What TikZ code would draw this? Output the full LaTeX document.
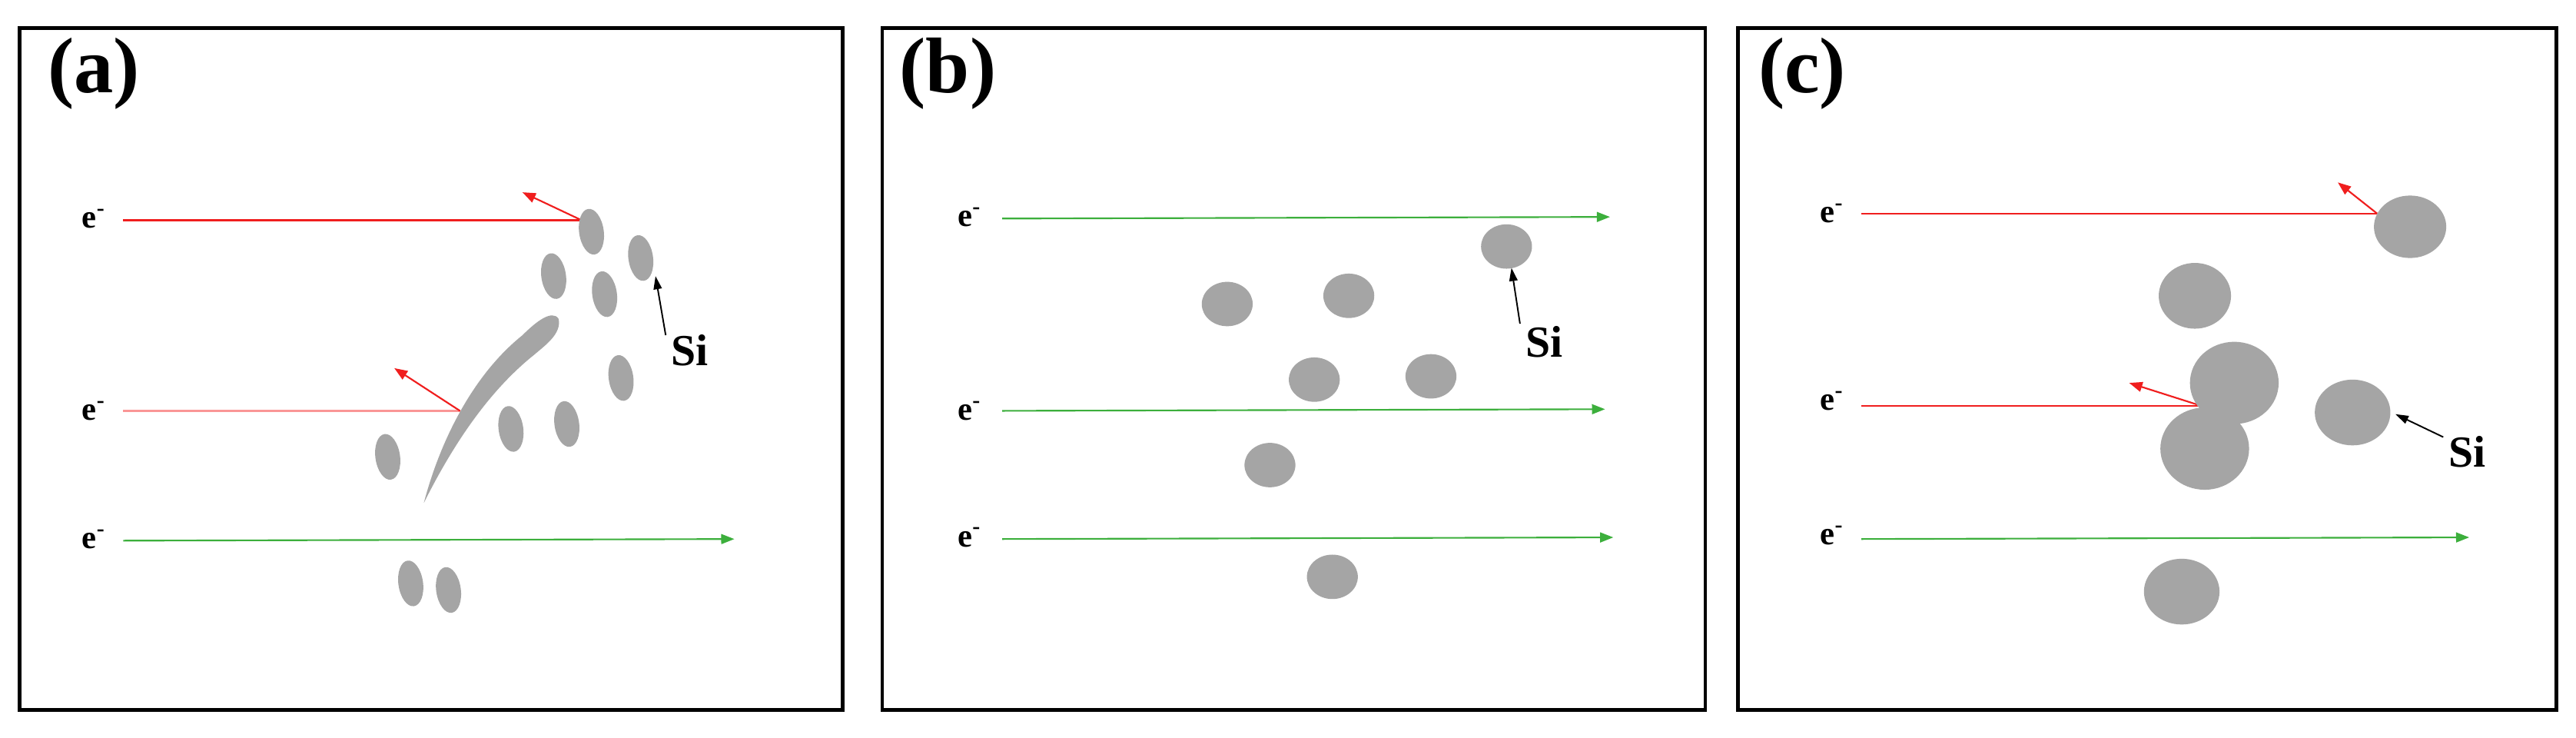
\documentclass[tikz,border=0pt]{standalone}
\usepackage{fontspec}
\setmainfont{Liberation Serif}
\usetikzlibrary{arrows.meta}
\definecolor{gr}{RGB}{60,175,60}
\definecolor{rd}{RGB}{240,30,30}
\definecolor{pk}{RGB}{250,150,150}
\definecolor{blob}{RGB}{165,165,165}
\begin{document}
\begin{tikzpicture}[x=1pt,y=-1pt,
 box/.style={draw,line width=2.2pt},
 lab/.style={font=\fontsize{48}{48}\selectfont\bfseries,anchor=center},
 el/.style={font=\fontsize{20}{20}\selectfont\bfseries,anchor=center},
 si/.style={font=\fontsize{27}{27}\selectfont\bfseries,anchor=center},
 grn/.style={draw=gr,line width=1pt,-{Triangle[length=8pt,width=6pt]}},
 red/.style={draw=rd,line width=1pt},
 rarr/.style={draw=rd,line width=1pt,-{Triangle[length=8pt,width=6pt]}},
 karr/.style={draw=black,line width=0.9pt,-{Triangle[length=8pt,width=5pt]}},
 b/.style={fill=blob},
]
\useasboundingbox (0,0) rectangle (1568,449);
\fill[white] (0,0) rectangle (1568,449);
% boxes
\draw[box] (12,17) rectangle (513,432);
\draw[box] (537,17) rectangle (1038,432);
\draw[box] (1058,17) rectangle (1556,432);
\node[lab] (la) at (57,45) {(a)};
\node[lab] (lb) at (577,45) {(b)};
\node[lab] (lc) at (1097,45) {(c)};
% ---- panel a
\foreach \n/\x/\y in {a1/57,a2/57,a3/57}{}
\node[el] (a1) at (57,133) {e\textsuperscript{-}};
\node[el] (a2) at (57,250) {e\textsuperscript{-}};
\node[el] (a3) at (57,328) {e\textsuperscript{-}};
\coordinate (a1s) at (75,134); \coordinate (a1e) at (354,134);
\draw[red] (a1s) -- (a1e);
\coordinate (a1t) at (318,117); \draw[rarr] (a1e) -- (a1t);
\coordinate (a2s) at (75,250); \coordinate (a2e) at (280,250);
\draw[draw=pk,line width=1pt] (a2s) -- (a2e);
\coordinate (a2t) at (240,224); \draw[rarr] (a2e) -- (a2t);
\coordinate (a3s) at (75,329); \coordinate (a3e) at (447,328);
\draw[grn] (a3s) -- (a3e);
\foreach \x/\y in {360/141,390/157,337/168,368/179,378/230,311/261,345/258,236/278,250/355,273/359}
  \fill[b,rotate around={8:(\x,\y)}] (\x,\y) ellipse (7.5 and 14);
\fill[b] (258,306) .. controls (268,268) and (288,228) .. (318,204)
  .. controls (326,196) and (336,188) .. (340,194)
  .. controls (342,203) and (332,210) .. (325,216)
  .. controls (300,236) and (278,266) .. (258,306) -- cycle;
\node[si] (asi) at (420,213) {Si};
\coordinate (asit) at (399,168);
\draw[karr] (asi.north west) ++(0,4) -- (asit);
% ---- panel b
\node[el] (b1) at (590,132) {e\textsuperscript{-}};
\node[el] (b2) at (590,250) {e\textsuperscript{-}};
\node[el] (b3) at (590,327) {e\textsuperscript{-}};
\coordinate (b1s) at (610,133); \coordinate (b1e) at (980,132); \draw[grn] (b1s) -- (b1e);
\coordinate (b2s) at (610,250); \coordinate (b2e) at (977,249); \draw[grn] (b2s) -- (b2e);
\coordinate (b3s) at (610,328); \coordinate (b3e) at (982,327); \draw[grn] (b3s) -- (b3e);
\foreach \x/\y in {917/150,747/185,821/180,800/231,871/229,773/283,811/351}
  \fill[b] (\x,\y) ellipse (15.5 and 13.5);
\node[si] (bsi) at (940,208) {Si};
\coordinate (bsit) at (920,163);
\draw[karr] (bsi.north west) ++(0,2) -- (bsit);
% ---- panel c
\node[el] (c1) at (1115,130) {e\textsuperscript{-}};
\node[el] (c2) at (1115,244) {e\textsuperscript{-}};
\node[el] (c3) at (1115,326) {e\textsuperscript{-}};
\coordinate (c1s) at (1133,130); \coordinate (c1e) at (1447,130); \draw[red] (c1s) -- (c1e);
\coordinate (c1t) at (1423,111); \draw[rarr] (c1e) -- (c1t);
\coordinate (c2s) at (1133,247); \coordinate (c2e) at (1340,247); \draw[red] (c2s) -- (c2e);
\coordinate (c2t) at (1296,233); \draw[rarr] (c2e) -- (c2t);
\coordinate (c3s) at (1133,328); \coordinate (c3e) at (1503,327); \draw[grn] (c3s) -- (c3e);
\fill[b] (1467,138) ellipse (22 and 19);
\fill[b] (1336,180) ellipse (22 and 20);
\fill[b] (1360,233) ellipse (27 and 25);
\fill[b] (1342,273) ellipse (27 and 25);
\fill[b] (1432,251) ellipse (23 and 20);
\fill[b] (1328,360) ellipse (23 and 20);
\node[si] (csi) at (1502,275) {Si};
\coordinate (csit) at (1458,252);
\draw[karr] (csi.north west) ++(0,4) -- (csit);
\end{tikzpicture}
\end{document}
